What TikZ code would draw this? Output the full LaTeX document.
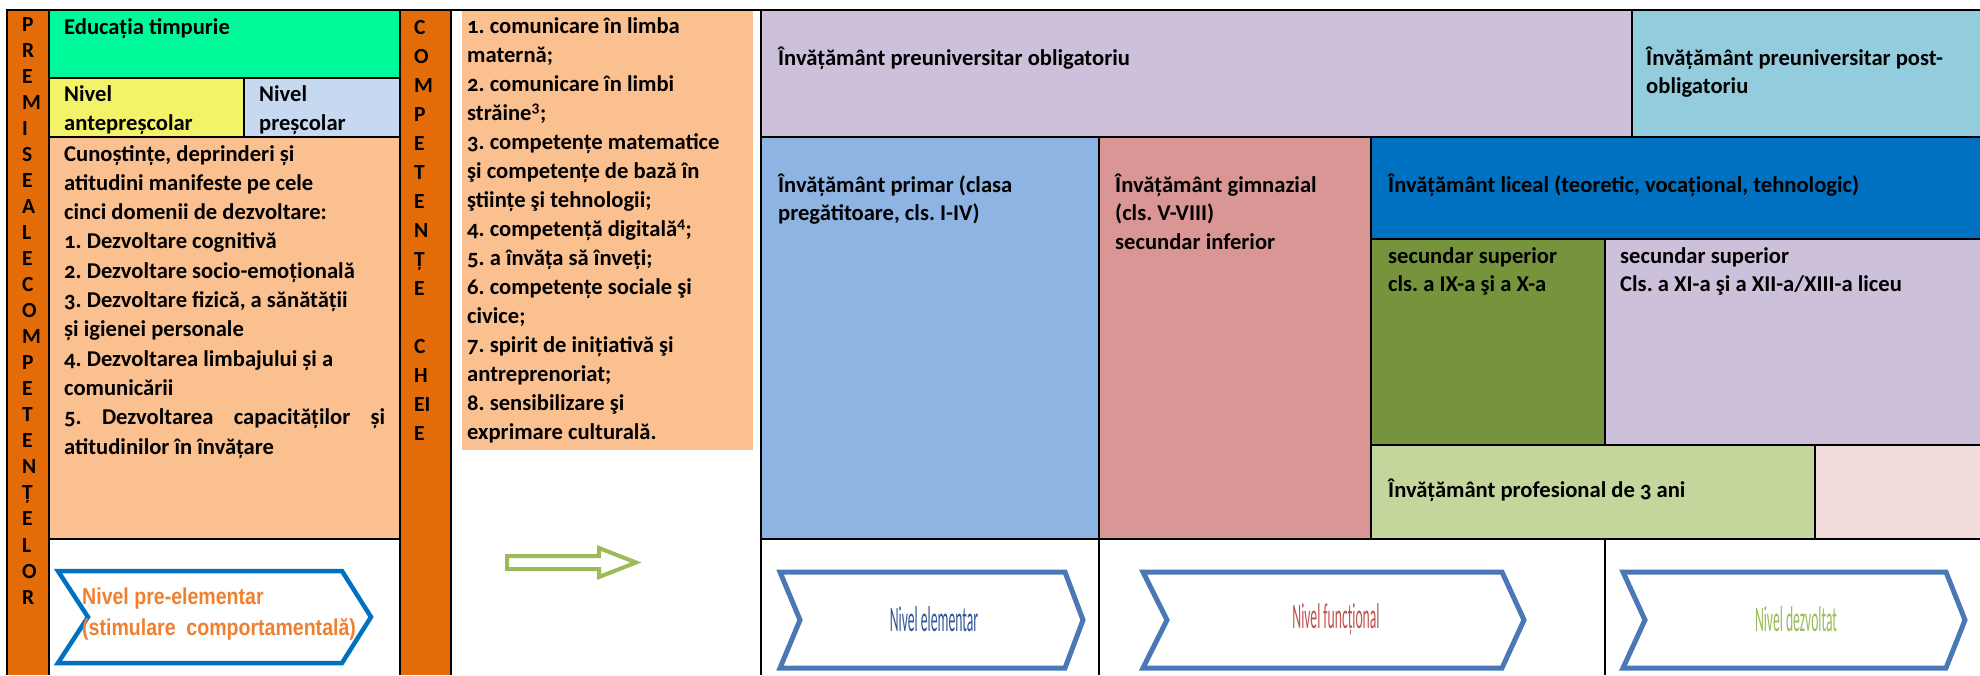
\documentclass[tikz,border=0pt]{standalone}
\usepackage{fontspec}
\setmainfont{Carlito}[Numbers=OldStyle]
\newfontfamily\chevf{Carlito}[FakeStretch=0.38]
\newfontfamily\prelf{Liberation Sans}[FakeStretch=0.85]
\definecolor{orcol}{HTML}{E36C09}
\definecolor{mint}{HTML}{00FA9A}
\definecolor{yel}{HTML}{F3F36A}
\definecolor{lblue}{HTML}{C6D9F1}
\definecolor{peach}{HTML}{FAC090}
\definecolor{lav}{HTML}{CCC0DA}
\definecolor{teal}{HTML}{93CDDD}
\definecolor{prim}{HTML}{8EB4E3}
\definecolor{gimn}{HTML}{D99694}
\definecolor{lic}{HTML}{0070C0}
\definecolor{secg}{HTML}{77933C}
\definecolor{prof}{HTML}{C3D69B}
\definecolor{lpink}{HTML}{F2DCDB}
\definecolor{arrg}{HTML}{9BBB59}
\definecolor{chevb}{HTML}{4A78B4}
\definecolor{preor}{HTML}{F08030}
\definecolor{eltxt}{HTML}{2F5496}
\definecolor{futxt}{HTML}{C0504D}
\definecolor{dztxt}{HTML}{9BBB59}
\newcommand\ml[2][29]{\vtop{\baselineskip=#1pt\lineskiplimit=-100pt\relax #2}}
\newcommand\vl[1]{\hbox{#1}}
\frenchspacing
\begin{document}
\begin{tikzpicture}[x=1pt,y=-1pt,
  bl/.style={line width=2.8pt,draw=black},
  txt/.style={inner sep=0pt,anchor=base west,font=\frenchspacing\bfseries\fontsize{22.6}{29}\selectfont},
  vert/.style={inner sep=0pt,anchor=base west,font=\bfseries\fontsize{21.5}{26}\selectfont},
  chev/.style={draw=chevb,line width=5pt,fill=white,line join=miter},
  chevtxt/.style={inner sep=0pt,anchor=center,font=\chevf\fontsize{36}{36}\selectfont}]
\useasboundingbox (0,0) rectangle (1980,675);
% fills
\fill[orcol] (7,10) rectangle (49,675);
\fill[mint] (49,10) rectangle (400,78);
\fill[yel] (49,78) rectangle (244,137);
\fill[lblue] (244,78) rectangle (400,137);
\fill[peach] (49,137) rectangle (400,539);
\fill[orcol] (400,10) rectangle (451,675);
\fill[peach] (462,10) rectangle (753,450);
\fill[lav] (761,10) rectangle (1632,137);
\fill[teal] (1632,10) rectangle (1980,137);
\fill[prim] (761,137) rectangle (1099,539);
\fill[gimn] (1099,137) rectangle (1371,539);
\fill[lic] (1371,137) rectangle (1980,239);
\fill[secg] (1371,239) rectangle (1605,445);
\fill[lav] (1605,239) rectangle (1980,445);
\fill[prof] (1371,445) rectangle (1815,539);
\fill[lpink] (1815,445) rectangle (1980,539);
% black rules
\draw[bl] (1980,10) -- (7,10) -- (7,675);
\draw[bl] (49,10) -- (49,675);
\draw[bl] (400,10) -- (400,675);
\draw[bl] (451,10) -- (451,675);
\draw[bl] (761,10) -- (761,675);
\draw[bl] (49,78) -- (400,78);
\draw[bl] (49,137) -- (400,137);
\draw[bl] (244,78) -- (244,137);
\draw[bl] (49,539) -- (400,539);
\draw[bl] (761,137) -- (1980,137);
\draw[bl] (1632,10) -- (1632,137);
\draw[bl] (1099,137) -- (1099,675);
\draw[bl] (1371,137) -- (1371,539);
\draw[bl] (1371,239) -- (1980,239);
\draw[bl] (1605,239) -- (1605,445);
\draw[bl] (1371,445) -- (1980,445);
\draw[bl] (1815,445) -- (1815,539);
\draw[bl] (761,539) -- (1980,539);
\draw[bl] (1605,539) -- (1605,675);
% vertical words
\node[vert] (premise) at (22,31) {\ml[26.05]{\vl{P}\vl{R}\vl{E}\vl{M}\vl{I}\vl{S}\vl{E}\vl{A}\vl{L}\vl{E}\vl{C}\vl{O}\vl{M}\vl{P}\vl{E}\vl{T}\vl{E}\vl{N}\vl{Ț}\vl{E}\vl{L}\vl{O}\vl{R}}};
\node[vert] (compet) at (414,34) {\ml[29]{\vl{C}\vl{O}\vl{M}\vl{P}\vl{E}\vl{T}\vl{E}\vl{N}\vl{Ț}\vl{E}\vl{\strut}\vl{C}\vl{H}\vl{EI}\vl{E}}};
% left block texts
\node[txt] (edu) at (64,34) {Educația timpurie};
\node[txt] (ante) at (64,101) {\ml{\vl{Nivel}\vl{antepreșcolar}}};
\node[txt] (presc) at (259,101) {\ml{\vl{Nivel}\vl{preșcolar}}};
\node[txt] (cunost) at (64,161) {\ml[29.3]{%
\vl{Cunoștințe, deprinderi și}%
\vl{atitudini manifeste pe cele}%
\vl{cinci domenii de dezvoltare:}%
\vl{1. Dezvoltare cognitivă}%
\vl{2. Dezvoltare socio-emoțională}%
\vl{3. Dezvoltare fizică, a sănătății}%
\vl{și igienei personale}%
\vl{4. Dezvoltarea limbajului și a}%
\vl{comunicării}%
\hbox to 321pt{5. \hfill Dezvoltarea \hfill capacităților \hfill și}%
\vl{atitudinilor în învățare}}};
% key competences
\node[txt] (keyc) at (467,33) {\ml[29.07]{%
\vl{1. comunicare în limba}%
\vl{maternă;}%
\vl{2. comunicare în limbi}%
\vl{străine\textsuperscript{3};}%
\vl{3. competențe matematice}%
\vl{şi competențe de bază în}%
\vl{ştiințe şi tehnologii;}%
\vl{4. competență digitală\textsuperscript{4};}%
\vl{5. a învăța să înveți;}%
\vl{6. competențe sociale şi}%
\vl{civice;}%
\vl{7. spirit de inițiativă şi}%
\vl{antreprenoriat;}%
\vl{8. sensibilizare şi}%
\vl{exprimare culturală.}}};
% right block texts
\node[txt] (oblig) at (778,65) {Învățământ preuniversitar obligatoriu};
\node[txt] (post) at (1646,65) {\ml[28.5]{\vl{Învățământ preuniversitar post-}\vl{obligatoriu}}};
\node[txt] (primar) at (778,192) {\ml[28.5]{\vl{Învățământ primar (clasa}\vl{pregătitoare, cls. I-IV)}}};
\node[txt] (gimnaz) at (1115,192) {\ml[28.5]{\vl{Învățământ gimnazial}\vl{(cls. V-VIII)}\vl{secundar inferior}}};
\node[txt] (liceal) at (1388,192) {Învățământ liceal (teoretic, vocațional, tehnologic)};
\node[txt] (sec1) at (1388,263) {\ml[28.5]{\vl{secundar superior}\vl{cls. a IX-a şi a X-a}}};
\node[txt] (sec2) at (1620,263) {\ml[28.5]{\vl{secundar superior}\vl{Cls. a XI-a şi a XII-a/XIII-a liceu}}};
\node[txt] (profes) at (1388,497) {Învățământ profesional de 3 ani};
% green hollow arrow
\draw[draw=arrg,line width=4pt,fill=white,line join=miter] (507,556) -- (599,556) -- (599,548) -- (636,562.5) -- (599,577) -- (599,569) -- (507,569) -- cycle;
% pre-elementary chevron
\draw[draw=lic,line width=4.5pt,fill=white,line join=miter] (58,571) -- (342,571) -- (371,617) -- (342,663) -- (58,663) -- (88,617) -- cycle;
\node[inner sep=0pt,anchor=base west,text=preor,font=\prelf\bfseries\fontsize{23}{31}\selectfont] (prel) at (82,604) {\ml[31]{\vl{Nivel pre-elementar}\vl{(stimulare\ \ comportamentală)}}};
% level chevrons
\draw[chev] (780,572) -- (1065,572) -- (1083,620) -- (1065,668) -- (780,668) -- (800,620) -- cycle;
\draw[chev] (1143,572) -- (1502,572) -- (1524,620) -- (1502,668) -- (1143,668) -- (1167,620) -- cycle;
\draw[chev] (1623,572) -- (1946,572) -- (1965,620) -- (1946,668) -- (1623,668) -- (1645,620) -- cycle;
\node[chevtxt,text=eltxt] (elem) at (934,619) {Nivel elementar};
\node[chevtxt,text=futxt] (func) at (1336,619) {Nivel funcțional};
\node[chevtxt,text=dztxt] (dezv) at (1796,619) {Nivel dezvoltat};
\end{tikzpicture}
\end{document}
